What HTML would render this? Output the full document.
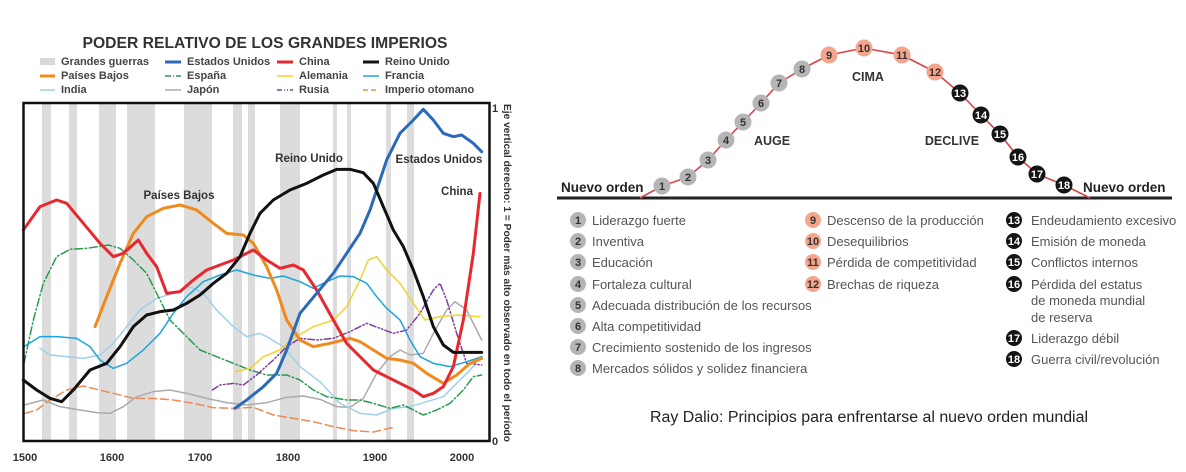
<!DOCTYPE html>
<html><head><meta charset="utf-8"><style>
html,body{margin:0;padding:0;background:#fff;}
svg{display:block;font-family:"Liberation Sans",sans-serif;}
</style></head><body>
<svg width="1186" height="472" viewBox="0 0 1186 472" xmlns="http://www.w3.org/2000/svg">
<rect width="1186" height="472" fill="#fff"/>
<!-- LEFT CHART -->
<text x="265" y="48" text-anchor="middle" font-size="16" font-weight="bold" fill="#333" textLength="365" lengthAdjust="spacingAndGlyphs">PODER RELATIVO DE LOS GRANDES IMPERIOS</text>
<g font-size="11" font-weight="bold" fill="#444">
<rect x="40" y="58" width="15" height="7" fill="#d9d9d9"/><text x="61" y="65">Grandes guerras</text>
<line x1="165" y1="62" x2="181" y2="62" stroke="#2a6ab8" stroke-width="3"/><text x="187" y="65">Estados Unidos</text>
<line x1="277" y1="62" x2="293" y2="62" stroke="#e8282f" stroke-width="3"/><text x="299" y="65">China</text>
<line x1="363" y1="62" x2="379" y2="62" stroke="#111" stroke-width="3"/><text x="385" y="65">Reino Unido</text>
<line x1="40" y1="76" x2="55" y2="76" stroke="#f08a1c" stroke-width="3"/><text x="61" y="79">Países Bajos</text>
<line x1="165" y1="76" x2="181" y2="76" stroke="#2a9a50" stroke-width="1.5" stroke-dasharray="6,2,1,2"/><text x="187" y="79">España</text>
<line x1="277" y1="76" x2="293" y2="76" stroke="#f3d22e" stroke-width="1.5"/><text x="299" y="79">Alemania</text>
<line x1="363" y1="76" x2="379" y2="76" stroke="#1aa6dc" stroke-width="1.5"/><text x="385" y="79">Francia</text>
<line x1="40" y1="90" x2="55" y2="90" stroke="#9fd0ea" stroke-width="1.5"/><text x="61" y="93">India</text>
<line x1="165" y1="90" x2="181" y2="90" stroke="#aaa" stroke-width="1.5"/><text x="187" y="93">Japón</text>
<line x1="277" y1="90" x2="293" y2="90" stroke="#7d3fa0" stroke-width="1.5" stroke-dasharray="5,2,1,2,1,2"/><text x="299" y="93">Rusia</text>
<line x1="363" y1="90" x2="379" y2="90" stroke="#ee8a55" stroke-width="1.5" stroke-dasharray="5,3"/><text x="385" y="93">Imperio otomano</text>
</g>
<g fill="#dcdcdc">
<rect x="42" y="104" width="9" height="336"/><rect x="69" y="104" width="8" height="336"/>
<rect x="99" y="104" width="17" height="336"/><rect x="127" y="104" width="28" height="336"/>
<rect x="184" y="104" width="28" height="336"/><rect x="233" y="104" width="9" height="336"/>
<rect x="248" y="104" width="7" height="336"/><rect x="280" y="104" width="20" height="336"/>
<rect x="333" y="104" width="4" height="336"/><rect x="347" y="104" width="4" height="336"/>
<rect x="386" y="104" width="5" height="336"/><rect x="407" y="104" width="7" height="336"/>
</g>
<g transform="translate(0,20) scale(0.33333)" fill="none" stroke-linejoin="round" stroke-linecap="round">
<polyline stroke="#ee8a55" stroke-width="4.5" stroke-dasharray="24,12" points="75,1180 110,1170 150,1140 200,1110 250,1098 290,1108 340,1120 400,1135 460,1135 520,1140 580,1150 640,1163 700,1165 760,1162 820,1185 880,1195 940,1205 1000,1220 1060,1232 1120,1236 1180,1222"/>
<polyline stroke="#aaa" stroke-width="4.5" points="72,1155 130,1140 180,1160 240,1170 290,1178 330,1180 370,1160 410,1130 460,1115 510,1110 560,1120 620,1135 680,1148 740,1155 800,1148 860,1132 910,1128 960,1138 1010,1160 1050,1162 1090,1135 1130,1060 1170,1010 1200,990 1230,1005 1270,1000 1300,940 1340,870 1365,845 1400,870 1445,960"/>
<polyline stroke="#9fd0ea" stroke-width="4.5" points="120,985 150,1005 200,1010 250,1015 300,1005 340,970 380,920 420,870 470,835 520,820 570,800 610,820 650,870 700,920 740,950 780,940 800,950 850,980 900,1040 960,1085 1020,1150 1080,1180 1130,1185 1180,1165 1230,1160 1280,1145 1330,1130 1370,1090 1410,1050 1445,1010"/>
<polyline stroke="#2a9a50" stroke-width="4.5" stroke-dasharray="24,8,4,8" points="72,1030 100,900 130,790 170,710 210,688 260,685 325,675 360,685 400,720 440,760 480,840 510,900 550,940 600,990 650,1010 700,1030 750,1050 800,1065 860,1065 900,1080 940,1110 980,1130 1040,1140 1080,1140 1120,1150 1170,1165 1210,1155 1240,1170 1270,1185 1310,1170 1350,1150 1390,1110 1420,1070 1445,1065"/>
<polyline stroke="#7d3fa0" stroke-width="4.5" stroke-dasharray="20,7,4,7,4,7" points="637,1110 660,1095 700,1090 730,1095 770,1065 820,1020 860,980 900,955 950,960 1000,955 1050,935 1100,910 1140,925 1180,940 1220,930 1260,880 1300,810 1320,790 1340,840 1370,940 1400,1030 1445,1035"/>
<polyline stroke="#f3d22e" stroke-width="4.5" points="705,1055 750,1045 790,1010 840,990 880,955 940,920 1000,900 1040,860 1080,780 1105,720 1130,710 1160,750 1200,790 1240,850 1275,900 1320,890 1370,885 1440,890"/>
<polyline stroke="#1aa6dc" stroke-width="4.5" points="72,980 120,950 170,950 230,955 270,980 300,1020 340,1045 380,1030 430,990 480,940 520,880 560,830 610,785 660,765 710,750 760,765 810,775 850,768 900,785 940,805 980,785 1020,768 1060,770 1100,790 1130,830 1160,865 1200,900 1230,960 1260,1010 1300,1030 1350,1040 1400,1025 1445,1010"/>
<polyline stroke="#f08a1c" stroke-width="9" points="285,920 320,830 360,730 400,640 440,590 490,565 540,555 590,570 640,610 680,640 730,645 760,670 800,740 830,810 860,900 900,960 940,980 990,970 1050,955 1080,965 1120,990 1160,1015 1200,1020 1240,1030 1280,1060 1330,1090 1370,1065 1410,1030 1445,1015"/>
<polyline stroke="#e8282f" stroke-width="9" points="70,630 120,560 170,540 200,550 250,610 300,670 340,710 370,700 415,660 440,700 470,740 500,820 540,815 580,780 620,750 660,735 700,720 760,690 800,720 840,745 880,735 910,750 950,810 1000,900 1040,970 1080,1010 1120,1050 1160,1070 1200,1090 1240,1110 1270,1130 1300,1120 1330,1100 1360,1040 1390,900 1420,700 1440,520"/>
<polyline stroke="#2a6ab8" stroke-width="9" points="705,1165 740,1140 790,1100 830,1060 860,990 900,880 950,820 1000,760 1040,700 1080,640 1110,570 1140,480 1160,420 1200,340 1240,300 1270,268 1300,300 1330,340 1360,350 1385,345 1420,370 1445,395"/>
<polyline stroke="#111" stroke-width="9" points="70,1080 110,1110 150,1135 185,1145 220,1110 270,1050 320,1030 360,980 400,920 440,885 480,875 520,870 560,850 600,825 640,790 680,760 720,710 750,640 780,580 820,540 870,510 920,490 970,465 1010,448 1050,448 1090,458 1120,490 1150,560 1180,630 1210,680 1240,750 1270,830 1300,920 1330,975 1360,997 1445,997"/>
</g>
<rect x="23.5" y="103" width="466" height="338" fill="none" stroke="#111" stroke-width="2.5"/>
<g font-size="11.5" font-weight="bold" fill="#333" text-anchor="middle">
<text x="309" y="162">Reino Unido</text>
<text x="439" y="163">Estados Unidos</text>
<text x="457" y="195">China</text>
<text x="179" y="199">Países Bajos</text>
</g>
<g font-size="11" font-weight="bold" fill="#333">
<text x="492" y="112">1</text><text x="492" y="445">0</text>
<text x="25" y="461" text-anchor="middle">1500</text>
<text x="112" y="461" text-anchor="middle">1600</text>
<text x="200" y="461" text-anchor="middle">1700</text>
<text x="288" y="461" text-anchor="middle">1800</text>
<text x="375" y="461" text-anchor="middle">1900</text>
<text x="462" y="461" text-anchor="middle">2000</text>
</g>
<text transform="translate(504,104) rotate(90)" font-size="10.5" font-weight="bold" fill="#333" textLength="338" lengthAdjust="spacingAndGlyphs">Eje vertical derecho: 1 = Poder más alto observado en todo el período</text>

<!-- RIGHT DIAGRAM -->
<line x1="557" y1="198" x2="1172" y2="198" stroke="#222" stroke-width="3"/>
<polyline fill="none" stroke="#d9434a" stroke-width="1.6" stroke-linejoin="round" points="640,198 662,186 688,177 708,160 726,140 743,122 761,103 779,83 802,69 829,55 864,48 902,55 935,72 960,93 981,115 1000,134 1018,157 1037,174 1064,185 1090,198"/>
<g font-size="11" font-weight="bold" text-anchor="middle">
<g fill="#b5b5b5"><circle cx="662" cy="186" r="8.5"/><circle cx="688" cy="177" r="8.5"/><circle cx="708" cy="160" r="8.5"/><circle cx="726" cy="140" r="8.5"/><circle cx="743" cy="122" r="8.5"/><circle cx="761" cy="103" r="8.5"/><circle cx="779" cy="83" r="8.5"/><circle cx="802" cy="69" r="8.5"/></g>
<g fill="#f4a58e"><circle cx="829" cy="55" r="8.5"/><circle cx="864" cy="48" r="8.5"/><circle cx="902" cy="55" r="8.5"/><circle cx="935" cy="72" r="8.5"/></g>
<g fill="#141414"><circle cx="960" cy="93" r="8.5"/><circle cx="981" cy="115" r="8.5"/><circle cx="1000" cy="134" r="8.5"/><circle cx="1018" cy="157" r="8.5"/><circle cx="1037" cy="174" r="8.5"/><circle cx="1064" cy="185" r="8.5"/></g>
<g fill="#333"><text x="662" y="190">1</text><text x="688" y="181">2</text><text x="708" y="164">3</text><text x="726" y="144">4</text><text x="743" y="126">5</text><text x="761" y="107">6</text><text x="779" y="87">7</text><text x="802" y="73">8</text>
<text x="829" y="59">9</text><text x="864" y="52">10</text><text x="902" y="59">11</text><text x="935" y="76">12</text></g>
<g fill="#fff"><text x="960" y="97">13</text><text x="981" y="119">14</text><text x="1000" y="138">15</text><text x="1018" y="161">16</text><text x="1037" y="178">17</text><text x="1064" y="189">18</text></g>
</g>
<g font-size="12.5" font-weight="bold" fill="#333">
<text x="868" y="81" text-anchor="middle">CIMA</text>
<text x="772" y="145" text-anchor="middle">AUGE</text>
<text x="952" y="145" text-anchor="middle">DECLIVE</text>
<text x="561" y="192" font-size="13.5" fill="#222">Nuevo orden</text>
<text x="1083" y="192" font-size="13.5" fill="#222">Nuevo orden</text>
</g>
<g font-size="13" fill="#555">
<g font-weight="bold" font-size="11" text-anchor="middle">
<g fill="#b5b5b5"><circle cx="578" cy="220" r="8"/><circle cx="578" cy="241" r="8"/><circle cx="578" cy="262" r="8"/><circle cx="578" cy="284" r="8"/><circle cx="578" cy="305" r="8"/><circle cx="578" cy="326" r="8"/><circle cx="578" cy="347" r="8"/><circle cx="578" cy="368" r="8"/></g>
<g fill="#333"><text x="578" y="224">1</text><text x="578" y="245">2</text><text x="578" y="266">3</text><text x="578" y="288">4</text><text x="578" y="309">5</text><text x="578" y="330">6</text><text x="578" y="351">7</text><text x="578" y="372">8</text></g>
<g fill="#f4a58e"><circle cx="813" cy="220" r="8"/><circle cx="813" cy="241" r="8"/><circle cx="813" cy="262" r="8"/><circle cx="813" cy="284" r="8"/></g>
<g fill="#333"><text x="813" y="224">9</text><text x="813" y="245">10</text><text x="813" y="266">11</text><text x="813" y="288">12</text></g>
<g fill="#141414"><circle cx="1014" cy="220" r="8"/><circle cx="1014" cy="241" r="8"/><circle cx="1014" cy="262" r="8"/><circle cx="1014" cy="284" r="8"/><circle cx="1014" cy="338" r="8"/><circle cx="1014" cy="359" r="8"/></g>
<g fill="#fff"><text x="1014" y="224">13</text><text x="1014" y="245">14</text><text x="1014" y="266">15</text><text x="1014" y="288">16</text><text x="1014" y="342">17</text><text x="1014" y="363">18</text></g>
</g>
<text x="592" y="225">Liderazgo fuerte</text>
<text x="592" y="246">Inventiva</text>
<text x="592" y="267">Educación</text>
<text x="592" y="289">Fortaleza cultural</text>
<text x="592" y="310">Adecuada distribución de los recursos</text>
<text x="592" y="331">Alta competitividad</text>
<text x="592" y="352">Crecimiento sostenido de los ingresos</text>
<text x="592" y="373">Mercados sólidos y solidez financiera</text>
<text x="827" y="225">Descenso de la producción</text>
<text x="827" y="246">Desequilibrios</text>
<text x="827" y="267">Pérdida de competitividad</text>
<text x="827" y="289">Brechas de riqueza</text>
<text x="1031" y="225">Endeudamiento excesivo</text>
<text x="1031" y="246">Emisión de moneda</text>
<text x="1031" y="267">Conflictos internos</text>
<text x="1031" y="289">Pérdida del estatus</text>
<text x="1031" y="305">de moneda mundial</text>
<text x="1031" y="322">de reserva</text>
<text x="1031" y="343">Liderazgo débil</text>
<text x="1031" y="364">Guerra civil/revolución</text>
</g>
<text x="869" y="422" text-anchor="middle" font-size="15.5" fill="#222" textLength="438" lengthAdjust="spacingAndGlyphs">Ray Dalio: Principios para enfrentarse al nuevo orden mundial</text>
</svg>
</body></html>
